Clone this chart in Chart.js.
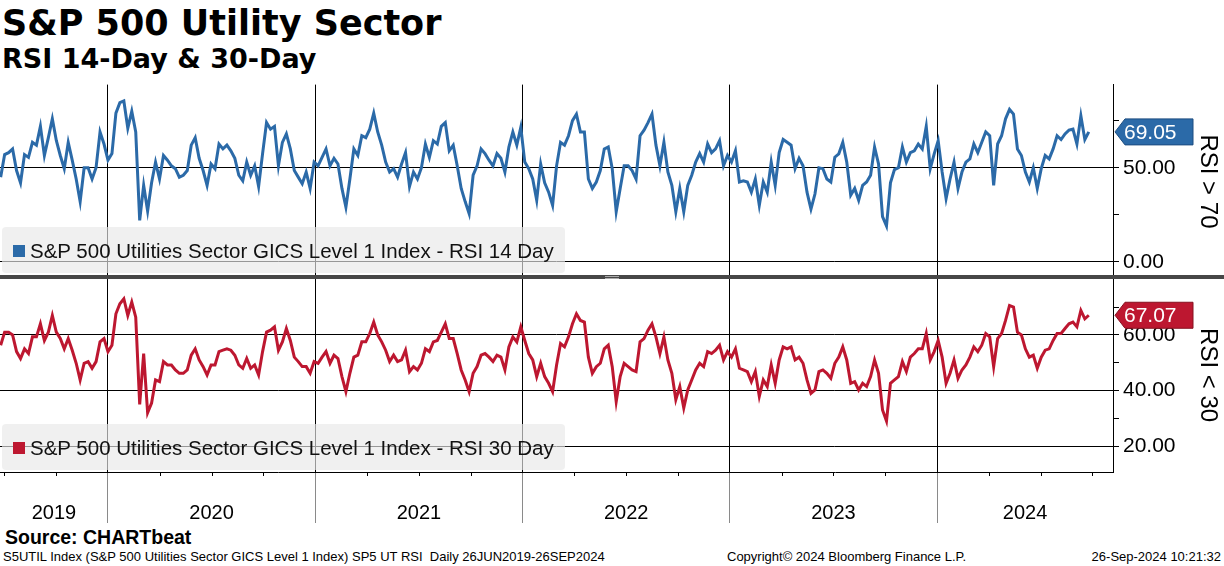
<!DOCTYPE html>
<html>
<head>
<meta charset="utf-8">
<script src="https://cdn.jsdelivr.net/npm/chart.js@4.4.1/dist/chart.umd.min.js"></script>
<style>
  html,body{margin:0;padding:0;background:#fff;}
  #wrap{position:relative;width:1224px;height:566px;overflow:hidden;font-family:"Liberation Sans",Arial,sans-serif;color:#000;}
  #title{position:absolute;left:2px;top:3px;font:bold 35px "DejaVu Sans",sans-serif;white-space:nowrap;}
  #subtitle{position:absolute;left:2px;top:43px;font:bold 27px "DejaVu Sans",sans-serif;white-space:nowrap;}
  #chart{position:absolute;left:0;top:68px;}
  .legend{position:absolute;left:2px;width:563px;height:46px;background:rgba(232,232,232,0.65);border-radius:4px;}
  .legend .mark{position:absolute;left:11px;top:18px;width:12px;height:12px;}
  .legend .txt{position:absolute;left:28px;top:12px;font-size:20.5px;white-space:nowrap;color:#111;}
  #sep{position:absolute;left:0;top:275px;width:1224px;height:4px;background:#474747;}
  #grip{position:absolute;left:605px;top:276px;width:14px;height:1px;border-bottom:1px solid #aaa;border-top:1px solid #aaa;}
  #source{position:absolute;left:5px;top:526px;font:bold 19.5px "Liberation Sans",Arial,sans-serif;}
  .foot{position:absolute;top:549px;font-size:13px;white-space:pre;}
</style>
</head>
<body>
<div id="wrap">
  <div id="title">S&amp;P 500 Utility Sector</div>
  <div id="subtitle">RSI 14-Day &amp; 30-Day</div>
  <canvas id="chart" width="1224" height="458"></canvas>
  <div class="legend" style="top:227px"><div class="mark" style="background:#2b6aa8"></div><div class="txt">S&amp;P 500 Utilities Sector GICS Level 1 Index - RSI 14 Day</div></div>
  <div class="legend" style="top:424px"><div class="mark" style="background:#bd1730"></div><div class="txt">S&amp;P 500 Utilities Sector GICS Level 1 Index - RSI 30 Day</div></div>
  <div id="sep"></div><div id="grip"></div>
  <div id="source">Source: CHARTbeat</div>
  <div class="foot" style="left:3px">S5UTIL Index (S&amp;P 500 Utilities Sector GICS Level 1 Index) SP5 UT RSI  Daily 26JUN2019-26SEP2024</div>
  <div class="foot" style="left:727px">Copyright© 2024 Bloomberg Finance L.P.</div>
  <div class="foot" style="right:3px">26-Sep-2024 10:21:32</div>
</div>
<script>
// weekly samples, 26 Jun 2019 -> 26 Sep 2024
const startDate = Date.UTC(2019, 5, 26);
const stepDays = 7;
const xMin = 2019.479, xMax = 2024.849;
const yearLabels = ["2019","2020","2021","2022","2023","2024"];
const yearStarts = [2020, 2021, 2022, 2023, 2024];

const rsi14 = [
  45,57,58,60,48.5,42,57,55.5,63.5,62,
  72,56.5,66,76,64.5,56.5,49.5,63.5,54,44,
  32,50,50,44,50,69,62.6,54,57.5,79,
  84.6,85.5,71,80,69,22,40.6,27,42,53,
  44,56.5,54,51,49.5,45,46,48.5,62,66,
  55,48.5,40.6,52,49.5,62.6,60,62,59,55,
  46,43,53,46,51,40,57.5,74,70.5,72,
  51,63.5,68,60,48.5,45,41.5,47.7,39,53,
  51,55.5,60,51,55,52,39,29,44,60,
  56.5,67,66,70.5,79,69,62,53,47.7,49.5,
  45,52,58,40,47.7,44,50,62.6,55.5,64.4,
  62.6,72,74,59,62,51,39,32,25.6,46,
  51,60,57.5,54,51,57.5,55,47.7,61,69,
  62,71.5,53,49.5,44,32.7,52,42,37,30,
  51,63.5,62,67,75,78.5,69,69,44,39,
  42.4,48.5,60,61,49.5,26.6,39,51,51,48.5,
  44,67,70,74,78.5,62,51,63.5,47.7,40.6,
  26.6,39,26.6,40.6,46,53,57.5,53,62.6,58,
  60,64.4,51,56.5,53,59,42.4,43,42.4,37,
  44,30,42.4,37,53,40.6,58,65,63.5,62,
  49.5,55,51,37,28,36,50,49.5,44,42.4,
  55.6,57.4,63.5,53,35.4,39,32.7,40.6,42.4,46,
  61,52,24,19,42,49,50,61,53,58,
  59,62.6,60,72,49.5,57.4,64.4,47.7,33.6,44,
  53,39,47.7,53,54.7,62.6,58,63.5,69,67,
  40.6,62.6,67,76,81,78.5,60,56.5,47.7,42.4,
  50,39,49.5,56.5,54.7,60,67,65,68,70,
  70.5,62.6,77.6,65,69.05
];

const rsi30 = [
  56.3,61,61,60,54,51.5,55,53.3,59.3,59.3,
  64,58,61,67,61,58.7,55,58.7,54.5,49.8,
  43.8,49.8,50.4,48,50.4,57.5,58.7,54,56.3,67.6,
  71.2,73,67,71.8,66.4,35,53.3,32,35.5,43.8,
  43.2,50.4,49.2,49.2,47.4,46.2,46.2,47.4,52.7,55,
  51,48.6,45.6,49.2,49.2,54,54.5,55,54.5,52.7,
  49.2,48,51.5,48,49.2,45.6,54,61,61.7,62.9,
  54.5,57.5,62.3,58,52,50.4,48.6,48.6,46.2,50.4,
  49.8,52,54,49.8,52.7,51.5,45,39.6,46.2,52,
  52.7,57.5,57.5,60.5,64.6,60,57.5,54.5,50.4,52.7,
  50.4,51,54.5,46.8,48.6,47.4,49.8,55,54,57.5,
  58,61,64,58.7,58.7,53.3,47.4,43.8,39.6,46.2,
  48.6,52.7,53.3,52,50.4,52.7,52,47.4,55.7,59.3,
  57.5,62.9,58,53.3,51,45,49.8,45,42.6,39.6,
  49.2,56.9,55.7,59.3,64,67.6,65.2,64.6,52,46.2,
  48.6,49.8,55,56.3,48.6,36,45,49.8,48.6,47.4,
  46.8,57.5,58.7,61.7,64,59.3,53.3,59.3,51,46.2,
  36.7,41.4,33.7,40.2,43.8,47.4,49.8,48.6,54,53.3,
  54.5,56.3,51,54,52,55,48,47.4,46.8,43.2,
  46.8,37.9,43.8,41.4,49.2,42.6,51,55.7,55,55.7,
  51,52,49.8,43.8,39,40.2,46.8,47.4,46.2,44.4,
  49.8,52,55.7,51,42.6,43.2,40.2,42.6,41.4,45,
  51,46.2,33,29,42.6,43.8,45,50.4,46.8,52,
  53.3,55,55,60.5,51,54,58,52,42.6,46.2,
  51,44.4,47.4,49.2,52,55.7,54,56.3,60.5,59.3,
  48.6,58.7,60.5,65.2,70.6,70,61,60,55,52,
  52.7,48,52,54.5,55,58,60.5,60.5,62.3,64,
  64.6,62.9,68.8,65.8,67.07
];

const rsi14Ticks = [0, 25, 50, 75];
const rsi14Major = [0, 50];
const rsi30Ticks = [20, 30, 40, 50, 60, 70];
const rsi30Major = [20, 40, 60];

const BLUE = "#2b6aa8", RED = "#bd1730";

function toYear(ms){
  const y = new Date(ms).getUTCFullYear();
  const a = Date.UTC(y,0,1), b = Date.UTC(y+1,0,1);
  return y + (ms-a)/(b-a);
}
const sampleX = rsi14.map((_,i)=>toYear(startDate + i*stepDays*86400000));

const yearMids = yearLabels.map(l=>{ const y=+l; return (Math.max(y,xMin)+Math.min(y+1,xMax))/2; });
const xTickValues = yearStarts.concat(yearMids).sort((a,b)=>a-b);
const isStart = v => yearStarts.some(s=>Math.abs(s-v)<1e-9);
const CLEAR = "rgba(0,0,0,0)";
const LBL = "Liberation Sans";

const extras = {
  id: "extras",
  afterDraw(chart){
    const ctx = chart.ctx, xs = chart.scales.x;
    // quarter ticks under the axis
    ctx.save(); ctx.strokeStyle = "#000"; ctx.lineWidth = 1;
    for (let y=2019; y<=2024; y++) for (let q=1; q<4; q++){
      const v = y+q/4; if (v<xMin || v>xMax) continue;
      const px = Math.round(xs.getPixelForValue(v))+0.5;
      ctx.beginPath(); ctx.moveTo(px, xs.top); ctx.lineTo(px, xs.top+4); ctx.stroke();
    }
    // last value tags
    [["y14", rsi14, BLUE, "#1c4d80"], ["y30", rsi30, RED, "#86101f"]].forEach(([id, arr, col, edge])=>{
      const s = chart.scales[id], last = arr[arr.length-1], y = s.getPixelForValue(last);
      const x0 = s.left+2, x1 = s.left+80, h = 26, tip = 10;
      ctx.beginPath();
      ctx.moveTo(x0, y); ctx.lineTo(x0+tip, y-h/2); ctx.lineTo(x1, y-h/2);
      ctx.lineTo(x1, y+h/2); ctx.lineTo(x0+tip, y+h/2); ctx.closePath();
      ctx.fillStyle = col; ctx.fill(); ctx.strokeStyle = edge; ctx.stroke();
      ctx.fillStyle = "#fff"; ctx.font = "21px '"+LBL+"'"; ctx.textBaseline = "middle"; ctx.textAlign = "left";
      ctx.fillText(last.toFixed(2), x0+9, y+1);
    });
    ctx.restore();
  }
};

new Chart(document.getElementById("chart"), {
  type: "line",
  data: {
    datasets: [
      { data: rsi14.map((v,i)=>({x:sampleX[i], y:v})), yAxisID:"y14", borderColor:BLUE, borderWidth:3, pointRadius:0, tension:0 },
      { data: rsi30.map((v,i)=>({x:sampleX[i], y:v})), yAxisID:"y30", borderColor:RED, borderWidth:3, pointRadius:0, tension:0 }
    ]
  },
  options: {
    responsive:false, animation:false,
    layout:{ padding:{ top:4, left:0, right:0, bottom:0 } },
    plugins:{ legend:{display:false}, tooltip:{enabled:false} },
    scales: {
      x: {
        type:"linear", position:"bottom", min:xMin, max:xMax,
        afterBuildTicks: s => { s.ticks = xTickValues.map(v=>({value:v})); },
        afterFit: s => { s.height = 54; },
        grid:{ color: c => isStart(c.tick.value) ? "#000" : CLEAR,
               tickColor: c => isStart(c.tick.value) ? "#8a8a8a" : CLEAR, tickLength:51 },
        border:{ display:true, color:"#000" },
        ticks:{ autoSkip:false, maxRotation:0, padding:-22, color:"#000", font:{family:LBL, size:20},
          callback: v => { const k = yearMids.findIndex(m=>Math.abs(m-v)<1e-9); return k<0 ? "" : yearLabels[k]; } }
      },
      y14: {
        type:"linear", position:"right", stack:"rsi", stackWeight:1, min:-8.8, max:94.2,
        afterBuildTicks: s => { s.ticks = rsi14Ticks.map(v=>({value:v})); },
        afterFit: s => { s.width = 111; },
        grid:{ color: c => rsi14Major.includes(c.tick.value) ? "#000" : CLEAR, tickColor:"#000", tickLength:6 },
        border:{ display:true, color:"#000" },
        ticks:{ autoSkip:false, padding:4, color:"#000", font:{family:LBL, size:21},
          callback: v => rsi14Major.includes(v) ? v.toFixed(2) : "" },
        title:{ display:true, text:"RSI > 70", color:"#000", font:{family:LBL, size:24}, padding:{top:2, bottom:0} }
      },
      y30: {
        type:"linear", position:"right", stack:"rsi", stackWeight:1, min:10.7, max:80.36,
        afterBuildTicks: s => { s.ticks = rsi30Ticks.map(v=>({value:v})); },
        afterFit: s => { s.width = 111; },
        grid:{ color: c => rsi30Major.includes(c.tick.value) ? "#000" : CLEAR, tickColor:"#000", tickLength:6 },
        border:{ display:true, color:"#000" },
        ticks:{ autoSkip:false, padding:4, color:"#000", font:{family:LBL, size:21},
          callback: v => rsi30Major.includes(v) ? v.toFixed(2) : "" },
        title:{ display:true, text:"RSI < 30", color:"#000", font:{family:LBL, size:24}, padding:{top:2, bottom:0} }
      }
    }
  },
  plugins:[extras]
});
</script>
</body>
</html>
